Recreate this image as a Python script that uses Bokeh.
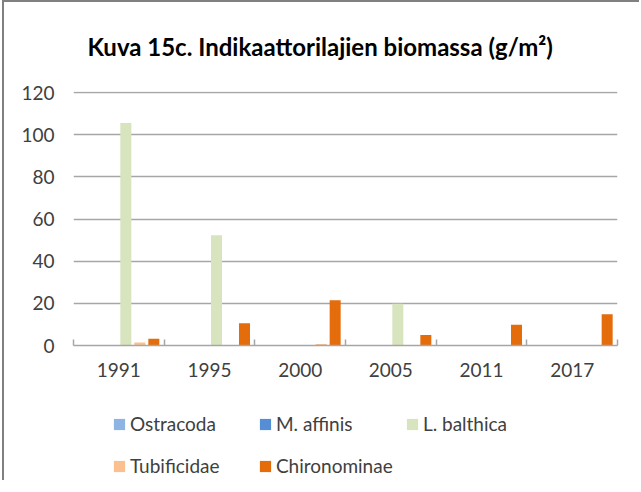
from bokeh.plotting import figure
from bokeh.layouts import column
from bokeh.models import (Range1d, LinearAxis, FixedTicker, Legend, LegendItem)
from bokeh.embed import file_html
from bokeh.resources import INLINE

# ---------------- data ----------------
years = ["1991", "1995", "2000", "2005", "2011", "2017"]
series_names = ["Ostracoda", "M. affinis", "L. balthica", "Tubificidae", "Chironominae"]
ostracoda = [0, 0, 0, 0, 0, 0]
m_affinis = [0, 0, 0, 0, 0, 0]
l_balthica = [105.5, 52.3, 0, 19.8, 0, 0]
tubificidae = [1.4, 0, 0.7, 0, 0, 0]
chironominae = [3.2, 10.5, 21.5, 5.0, 9.9, 14.8]
y_ticks = [0, 20, 40, 60, 80, 100, 120]
title_text = "Kuva 15c. Indikaattorilajien biomassa (g/m²)"

series_values = [ostracoda, m_affinis, l_balthica, tubificidae, chironominae]
colors = ["#8EB4E3", "#558ED5", "#D7E4BD", "#FAC090", "#E46C0A"]

FONT = "Lato"
TXT = "#404040"
GRID = "#A6A6A6"

W = 637
H_MAIN, H_LEG = 400, 80

# ---------------- main chart ----------------
p = figure(width=W, height=H_MAIN, output_backend="svg", toolbar_location=None,
           x_range=Range1d(0, len(years)), y_range=Range1d(0, y_ticks[-1] + 0.5),
           x_axis_location=None, y_axis_location="left",
           min_border_left=69, min_border_right=24, min_border_top=89, min_border_bottom=57)
p.outline_line_color = None
p.background_fill_color = "white"
p.border_fill_color = "white"

p.title.text = title_text
p.title.align = "left"
p.title.offset = 14
p.title.vertical_align = "top"
p.title.standoff = 58
p.title.text_font = FONT
p.title.text_font_style = "bold"
p.title.text_font_size = "24px"
p.title.text_color = "black"

yt = FixedTicker(ticks=y_ticks)
p.yaxis.ticker = yt
p.ygrid.ticker = yt
p.ygrid.grid_line_color = GRID
p.ygrid.grid_line_width = 1.4
p.xgrid.visible = False
p.yaxis.axis_line_color = None
p.yaxis.major_tick_line_color = None
p.yaxis.minor_tick_line_color = None
p.yaxis.major_tick_out = 0
p.yaxis.major_tick_in = 0
p.yaxis.major_label_standoff = 19
p.yaxis.major_label_text_font = FONT
p.yaxis.major_label_text_font_size = "19px"
p.yaxis.major_label_text_color = TXT

centers = [i + 0.5 for i in range(len(years))]
bounds = list(range(len(years) + 1))
xaxis = LinearAxis(ticker=FixedTicker(ticks=centers, minor_ticks=bounds),
                   major_label_overrides={c: y for c, y in zip(centers, years)})
xaxis.axis_line_color = GRID
xaxis.axis_line_width = 1.5
xaxis.major_tick_line_color = None
xaxis.major_tick_in = 0
xaxis.major_tick_out = 0
xaxis.minor_tick_line_color = GRID
xaxis.minor_tick_line_width = 1.5
xaxis.minor_tick_in = 6
xaxis.minor_tick_out = 0
xaxis.major_label_standoff = 17
xaxis.major_label_text_font = FONT
xaxis.major_label_text_font_size = "19px"
xaxis.major_label_text_color = TXT
p.add_layout(xaxis, "below")

n_slots = 6
slot_w = 14 / 90.67
bar_w = 11 / 90.67
bar_x = []
for k, (vals, col) in enumerate(zip(series_values, colors)):
    off = (k + 1 - (n_slots - 1) / 2) * slot_w
    xs = [c + off for c in centers]
    bar_x.append(xs)
    p.vbar(x=xs, top=vals, width=bar_w, fill_color=col, line_color=None)

# ---------------- legend strip ----------------
# legend-only renderers for the same series (zero width, outside the view)
lg = figure(width=W, height=H_LEG, output_backend="svg", toolbar_location=None,
            x_range=Range1d(0, len(years)), y_range=Range1d(-200, -199),
            x_axis_location=None, y_axis_location=None,
            min_border_left=69, min_border_right=24, min_border_top=0, min_border_bottom=0)
lg.outline_line_color = None
lg.xgrid.visible = False
lg.ygrid.visible = False
lg.border_fill_color = "white"
lg.background_fill_color = "white"

col_x = [38.9, 184.9, 331.9]
row_vy = [47, 5]
for k, (name, vals, col) in enumerate(zip(series_names, series_values, colors)):
    r = lg.vbar(x=bar_x[k], top=vals, width=0, fill_color=col, line_color=None)
    row, c = divmod(k, 3)
    leg = Legend(items=[LegendItem(label=name, renderers=[r])],
                 location=(col_x[c], row_vy[row]),
                 orientation="horizontal", border_line_color=None,
                 background_fill_alpha=0, padding=0, margin=0, spacing=0,
                 glyph_width=14, glyph_height=14, label_height=14,
                 label_standoff=4, label_text_font=FONT,
                 label_text_font_size="19px", label_text_color=TXT)
    lg.add_layout(leg, "center")

layout = column(p, lg, spacing=0)
layout.styles = {"margin-left": "4px", "margin-top": "2px",
                 "box-shadow": "-2px -2px 0 0 #808080"}

open("out.html", "w").write(file_html(layout, INLINE))
